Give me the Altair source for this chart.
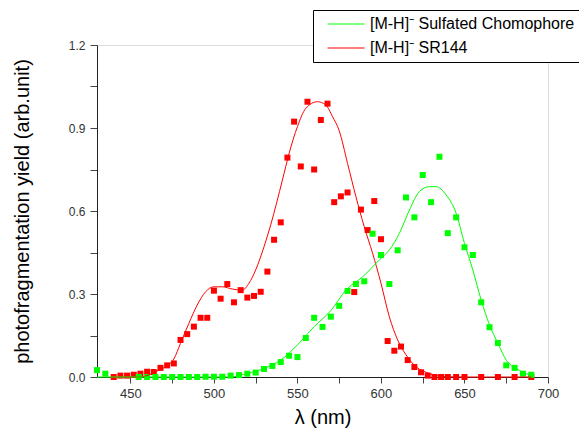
import altair as alt
import pandas as pd

S1 = "[M-H]\u207b Sulfated Chomophore"
S2 = "[M-H]\u207b SR144"

red_x = [440, 444, 448, 452, 456, 460, 464, 468, 472, 476, 480, 484, 488, 492, 496,
         500, 504, 508, 512, 516, 520, 524, 528, 532, 536, 540, 544, 548, 552, 556,
         560, 564, 568, 572, 576, 580, 584, 588, 592, 596, 600, 604, 608, 612, 616,
         620, 624, 628, 632, 636, 640, 645, 650, 660, 670, 680, 690]
red_y = [0.0, 0.005, 0.005, 0.008, 0.012, 0.019, 0.018, 0.033, 0.042, 0.049,
         0.134, 0.155, 0.182, 0.214, 0.214, 0.312, 0.283, 0.336, 0.270, 0.314,
         0.287, 0.293, 0.308, 0.381, 0.496, 0.559, 0.793, 0.923, 0.761, 0.995,
         0.750, 0.929, 0.988, 0.632, 0.653, 0.667, 0.307, 0.605, 0.531, 0.636,
         0.498, 0.130, 0.095, 0.110, 0.061, 0.036, 0.017, 0.005, 0.0, 0.0,
         0.0, 0.0, 0.0, 0.0, 0.0, 0.0, 0.0]

green_x = [430, 435, 455, 460, 465, 470, 475, 480, 485, 490, 495, 500, 505, 510,
           515, 520, 525, 530, 535, 540, 545, 550, 555, 560, 565, 570, 575, 580,
           585, 590, 595, 600, 605, 610, 615, 620, 625, 630, 635, 640, 645, 650,
           655, 660, 665, 670, 675, 680, 685, 690]
green_y = [0.025, 0.012, 0.0, 0.0, 0.0, 0.0, 0.0, 0.0, 0.0, 0.0, 0.001, 0.001,
           0.001, 0.005, 0.007, 0.012, 0.016, 0.029, 0.040, 0.054, 0.077, 0.072,
           0.141, 0.214, 0.181, 0.218, 0.257, 0.311, 0.336, 0.346, 0.518, 0.441,
           0.336, 0.458, 0.649, 0.577, 0.730, 0.632, 0.796, 0.520, 0.577, 0.469,
           0.441, 0.270, 0.180, 0.123, 0.042, 0.033, 0.012, 0.008]

red_fit_x = [440, 455, 460, 465, 471, 476, 480, 485, 490, 495, 500, 505, 511, 517,
             521, 525, 530, 534, 541, 545, 550, 555, 562, 567, 571, 575, 580, 585,
             590, 595, 600, 605, 610, 615, 621, 629, 639, 650, 690]
red_fit_y = [0.0, 0.0, 0.005, 0.019, 0.037, 0.065, 0.122, 0.194, 0.26, 0.308,
             0.326, 0.326, 0.318, 0.314, 0.339, 0.387, 0.471, 0.55, 0.712, 0.808,
             0.905, 0.971, 0.995, 0.983, 0.941, 0.89, 0.772, 0.652, 0.543, 0.447,
             0.339, 0.218, 0.134, 0.080, 0.037, 0.013, 0.001, 0.0, 0.0]

green_fit_x = [430, 510, 520, 530, 540, 550, 560, 570, 579, 589, 599, 605, 611,
               617, 623, 629, 633, 639, 645, 650, 655, 660, 665, 670, 675, 681, 689]
green_fit_y = [0.0, 0.0, 0.013, 0.031, 0.061, 0.116, 0.182, 0.24, 0.314, 0.362,
               0.423, 0.459, 0.519, 0.603, 0.67, 0.688, 0.688, 0.658, 0.592, 0.483,
               0.387, 0.278, 0.188, 0.122, 0.061, 0.031, 0.007]

x_ticks = [450, 475, 500, 525, 550, 575, 600, 625, 650, 675, 700]
y_ticks = [0.0, 0.15, 0.3, 0.45, 0.6, 0.75, 0.9, 1.05, 1.2]

colors = ["#00ff00", "#ff0000"]

pts = pd.concat([
    pd.DataFrame({"x": red_x, "y": red_y, "series": S2}),
    pd.DataFrame({"x": green_x, "y": green_y, "series": S1}),
])
fit = pd.concat([
    pd.DataFrame({"x": red_fit_x, "y": red_fit_y, "series": S2}),
    pd.DataFrame({"x": green_fit_x, "y": green_fit_y, "series": S1}),
])

xs = alt.Scale(domain=[430, 700], nice=False, zero=False)
ys = alt.Scale(domain=[0, 1.2], nice=False)
cs = alt.Scale(domain=[S1, S2], range=colors)

xaxis = alt.Axis(values=x_ticks, labelExpr="datum.value % 50 == 0 ? datum.label : ''",
                 title="\u03bb (nm)", grid=False, tickSize=6, labelPadding=4,
                 labelFontSize=13, titleFontSize=20, titleFontWeight="normal",
                 labelColor="#333333", titleColor="black", domainColor="#222222",
                 tickColor="#444444", titlePadding=7, labelFlush=False)
yaxis = alt.Axis(values=y_ticks,
                 labelExpr="round(datum.value*100) % 30 == 0 ? format(datum.value, '.1f') : ''",
                 title="photofragmentation yield (arb.unit)", grid=False, tickSize=7,
                 labelPadding=5, labelFontSize=12, titleFontSize=20,
                 titleFontWeight="normal", labelColor="#333333", titleColor="black",
                 domainColor="#222222", tickColor="#444444", titlePadding=36,
                 labelFlush=False)

legend = alt.Legend(title=None, orient="none", legendX=216, legendY=-35,
                    strokeColor="black", fillColor="white", padding=6,
                    symbolType="M-1,0H4", symbolSize=219, symbolStrokeWidth=1,
                    labelFontSize=16, labelOffset=27, symbolOffset=8, rowPadding=8,
                    labelColor="black", labelLimit=400,
                    labelExpr="datum.label + '\u00a0\u00a0\u00a0'")

points = alt.Chart(pts).mark_square(size=36, opacity=1).encode(
    x=alt.X("x:Q", scale=xs, axis=xaxis),
    y=alt.Y("y:Q", scale=ys, axis=yaxis),
    color=alt.Color("series:N", scale=cs, legend=legend),
)

lines = alt.Chart(fit).mark_line(strokeWidth=1, interpolate="monotone").encode(
    x=alt.X("x:Q", scale=xs),
    y=alt.Y("y:Q", scale=ys),
    color=alt.Color("series:N", scale=cs, legend=legend),
)

chart = alt.layer(points, lines).properties(
    width=451, height=332,
    autosize=alt.AutoSizeParams(type="none"),
    padding={"left": 89, "top": 37, "right": 31, "bottom": 51},
).configure_view(stroke=None).configure(font="Liberation Sans")

chart.save("out.html", embed_options={"renderer": "svg", "actions": False})
